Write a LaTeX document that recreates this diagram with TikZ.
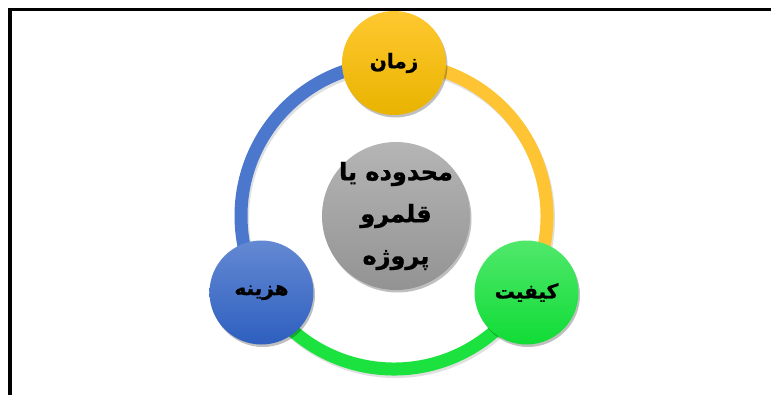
\documentclass[tikz,border=0pt]{standalone}
\usepackage{fontspec}
\newfontfamily\arabicfont[Script=Arabic,BoldFeatures={FakeBold=1.2}]{DejaVu Sans}
\TeXXeTstate=1
\usetikzlibrary{backgrounds,shadows}

\definecolor{zrdTop}{HTML}{FFC830}
\definecolor{zrdBot}{HTML}{E9B300}
\definecolor{abiTop}{HTML}{6489D3}
\definecolor{abiBot}{HTML}{2E5FBF}
\definecolor{sbzTop}{HTML}{50E86B}
\definecolor{sbzBot}{HTML}{10DC36}
\definecolor{khkTop}{HTML}{B5B5B5}
\definecolor{khkBot}{HTML}{939393}
\definecolor{ringZrd}{HTML}{FFC433}
\definecolor{ringSbz}{HTML}{1BE23E}
\definecolor{ringAbi}{HTML}{4B78CC}

\begin{document}
\begin{tikzpicture}[x=1pt,y=1pt,
  ball/.style={circle,minimum size=104pt,inner sep=0pt,
    font=\arabicfont\bfseries\fontsize{20}{24}\selectfont,
    drop shadow={shadow xshift=1.5pt,shadow yshift=-2.5pt,opacity=0.25,fill=black}},
  ringy/.style={line width=13pt,
    preaction={draw=black,opacity=0.12,line width=13pt,transform canvas={shift={(1.5pt,-2.5pt)}}}}]

\useasboundingbox (-394,-178) rectangle (377,216);
\draw[line width=3.5pt] (-384,206.7) rectangle (420,-220);

\node[ball,top color=khkTop,bottom color=khkBot,minimum size=148pt,inner sep=-14pt,align=center,
      font=\arabicfont\bfseries\fontsize{24}{42}\selectfont]
      (qlm) at (2,0) {\beginR محدوده یا\endR\\\beginR قلمرو\endR\\\beginR پروژه\endR};

\node[ball,top color=zrdTop,bottom color=zrdBot] (zaman)   at (90:153)  {\beginR زمان\endR};
\node[ball,top color=abiTop,bottom color=abiBot] (hazine)  at (210:153) {\beginR هزینه\endR};
\node[ball,top color=sbzTop,bottom color=sbzBot] (keyfiat) at (330:153) {\beginR کیفیت\endR};

\begin{pgfonlayer}{background}
\draw[ringy,ringAbi] (zaman.center)   arc[start angle=90,end angle=210,radius=153];
\draw[ringy,ringSbz] (hazine.center)  arc[start angle=210,end angle=330,radius=153];
\draw[ringy,ringZrd] (keyfiat.center) arc[start angle=-30,end angle=90,radius=153];
\end{pgfonlayer}

\end{tikzpicture}
\end{document}
